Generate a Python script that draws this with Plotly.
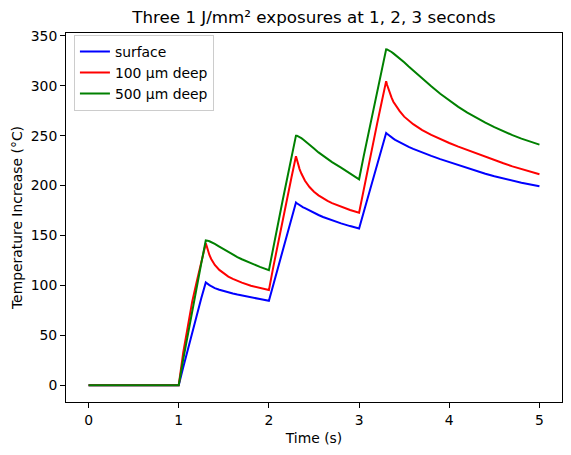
import plotly.graph_objects as go

# Time grid (s)
time_s = [0.0, 1.0,
          1.05, 1.1, 1.15, 1.2, 1.25, 1.3,
          1.31, 1.32, 1.34, 1.36, 1.38, 1.4, 1.45, 1.5, 1.55, 1.6, 1.65, 1.7, 1.8, 1.9, 2.0,
          2.05, 2.1, 2.15, 2.2, 2.25, 2.3,
          2.31, 2.32, 2.34, 2.36, 2.38, 2.4, 2.45, 2.5, 2.55, 2.6, 2.65, 2.7, 2.8, 2.9, 3.0,
          3.05, 3.1, 3.15, 3.2, 3.25, 3.3,
          3.31, 3.32, 3.34, 3.36, 3.38, 3.4, 3.45, 3.5, 3.55, 3.6, 3.65, 3.7, 3.8, 3.9, 4.0,
          4.1, 4.2, 4.3, 4.4, 4.5, 4.6, 4.7, 4.8, 4.9, 5.0]

surface = [0, 0,
           18, 36, 53, 70, 87, 103,
           102.2, 101.5, 100.3, 99.2, 98.2, 97.3, 95.6, 94.2, 93, 91.9, 90.8, 89.8, 88, 86.3, 84.6,
           101, 117.5, 134, 150, 166.5, 183,
           182.2, 181.5, 180.3, 179.2, 178.2, 177.3, 174.8, 172.6, 170.5, 168.5, 166.8, 165.2, 162.1, 159.4, 157,
           173, 189, 205, 221, 237, 252.6,
           251.8, 251, 249.6, 248.3, 247, 245.8, 243.2, 240.9, 238.8, 236.8, 234.9, 233.1, 229.7, 226.5, 223.5,
           220.6, 217.6, 214.5, 211.8, 209.3, 207, 204.8, 202.8, 201, 199.3]

deep_100um = [0, 0,
              33, 60, 84, 104, 124, 142,
              139.5, 136, 130.5, 126.5, 123, 120.5, 115.5, 111.8, 108.8, 106.5, 104.5, 102.7, 99.6, 97.3, 95.3,
              119, 142, 164.5, 186.5, 208, 229.3,
              225.5, 222, 216.5, 212, 208, 204.8, 198.5, 193.8, 190.2, 187.2, 184.6, 182.4, 178.6, 175.5, 172.8,
              196, 218, 240, 262, 283.5, 304.6,
              301, 298, 292.5, 288, 284, 281, 274.5, 269, 265, 261.5, 258.5, 255.5, 250.7, 246.5, 242.6,
              239, 235.5, 232, 228.6, 225.4, 222.3, 219.2, 216.4, 213.8, 211.3]

deep_500um = [0, 0,
              26, 51, 75, 99, 122, 145,
              145, 144.8, 144.2, 143.4, 142.5, 141.5, 138.8, 136, 133.3, 130.8, 128.4, 126.2, 122, 118.5, 115.3,
              139, 162, 184, 206, 228, 250,
              250, 249.6, 248.7, 247.5, 246.2, 244.8, 241, 237, 233.2, 229.7, 226.5, 223.5, 218, 212.2, 206.3,
              229, 251, 273, 294, 315.5, 336.5,
              336.4, 336, 335, 333.8, 332.4, 331, 327.5, 323.5, 319.3, 315.2, 311.2, 307.2, 299.5, 292, 285,
              278.8, 273, 267.8, 263, 258.5, 254.3, 250.5, 247, 243.9, 241]

series_names = ["surface", "100 µm deep", "500 µm deep"]
series_colors = ["blue", "red", "green"]
x_ticks = [0, 1, 2, 3, 4, 5]
y_ticks = [0, 50, 100, 150, 200, 250, 300, 350]

FONT = "DejaVu Sans, Verdana, sans-serif"

fig = go.Figure()
for name, ys, col in zip(series_names, [surface, deep_100um, deep_500um], series_colors):
    fig.add_trace(go.Scatter(x=time_s, y=ys, mode="lines", name=name,
                             line=dict(color=col, width=2)))

axis_common = dict(showline=True, linecolor="black", linewidth=1, mirror=True,
                   ticks="outside", ticklen=5, tickwidth=1, tickcolor="black",
                   showgrid=False, zeroline=False,
                   tickfont=dict(family=FONT, size=13.9, color="black"))

fig.update_layout(
    width=571, height=455,
    margin=dict(l=66, r=9, t=33, b=53),
    paper_bgcolor="white", plot_bgcolor="white",
    font=dict(family=FONT, size=13.9, color="black"),
    title=dict(text="Three 1 J/mm² exposures at 1, 2, 3 seconds",
               x=0.5, xref="paper", xanchor="center",
               y=1 - 17 / 455, yref="container", yanchor="middle",
               font=dict(family=FONT, size=16.7, color="black")),
    xaxis=dict(range=[-0.25, 5.25], tickvals=x_ticks, ticktext=[str(v) for v in x_ticks],
               title=dict(text="Time (s)", standoff=6,
                          font=dict(family=FONT, size=13.9, color="black")),
               **axis_common),
    yaxis=dict(range=[-16.8, 352.8], tickvals=y_ticks, ticktext=[str(v) for v in y_ticks],
               title=dict(text="Temperature Increase (°C)", standoff=4,
                          font=dict(family=FONT, size=13.9, color="black")),
               **axis_common),
    legend=dict(x=0.016, y=0.995, xanchor="left", yanchor="top",
                bgcolor="rgba(255,255,255,0.8)", bordercolor="#cccccc", borderwidth=1,
                font=dict(family=FONT, size=13.9, color="black"),
                itemwidth=30, tracegroupgap=0),
    showlegend=True,
)

fig.write_html("out.html")
